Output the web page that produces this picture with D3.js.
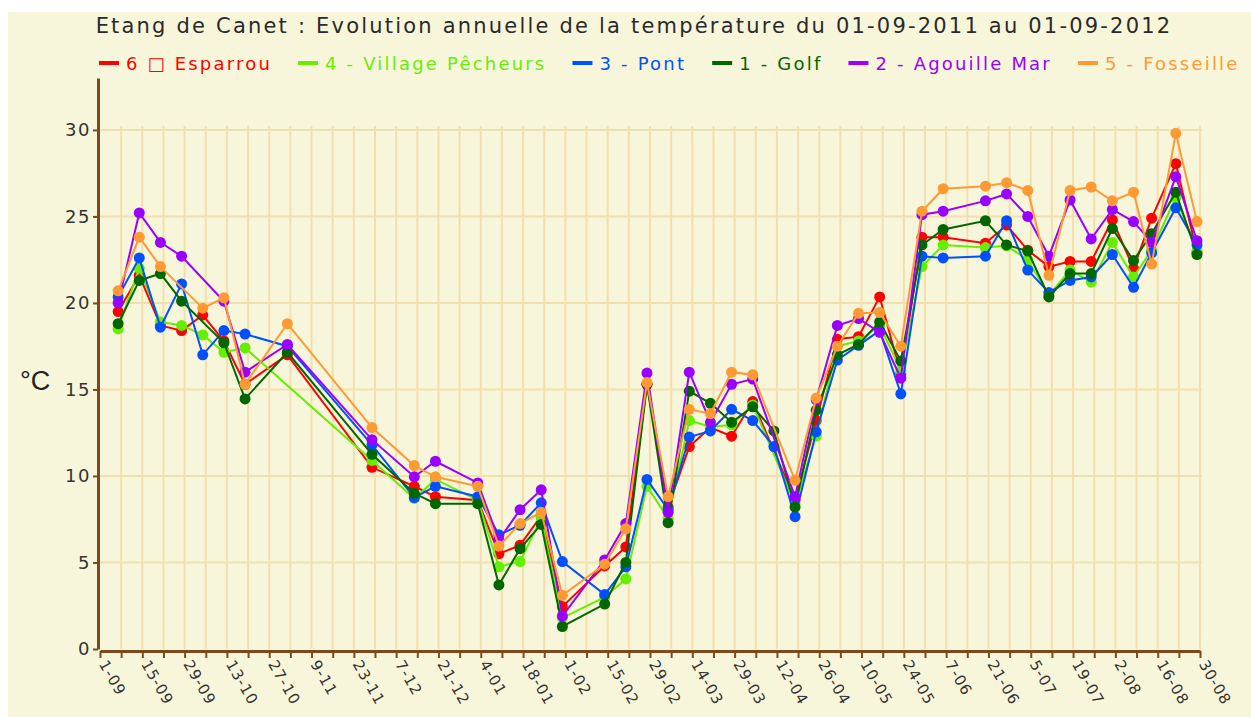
<!DOCTYPE html>
<html lang="fr">
<head>
<meta charset="UTF-8">
<title>Etang de Canet</title>
<script src="https://cdn.jsdelivr.net/npm/d3@7"></script>
<style>
    body { margin: 0; background: #fff; }
    svg text { font-family: "DejaVu Sans", Verdana, sans-serif; }
</style>
</head>
<body>
<svg width="1251" height="717"></svg>
<script>
    // dates des relevés
    var dates = ["2011-09-07", "2011-09-14", "2011-09-21", "2011-09-28", "2011-10-05", "2011-10-12", "2011-10-19",
        "2011-11-02", "2011-11-30", "2011-12-14", "2011-12-21", "2012-01-04", "2012-01-11", "2012-01-18",
        "2012-01-25", "2012-02-01", "2012-02-15", "2012-02-22", "2012-02-29", "2012-03-07", "2012-03-14",
        "2012-03-21", "2012-03-28", "2012-04-04", "2012-04-11", "2012-04-18", "2012-04-25", "2012-05-02",
        "2012-05-09", "2012-05-16", "2012-05-23", "2012-05-30", "2012-06-06", "2012-06-20", "2012-06-27",
        "2012-07-04", "2012-07-11", "2012-07-18", "2012-07-25", "2012-08-01", "2012-08-08", "2012-08-14",
        "2012-08-22", "2012-08-29"];

    var tickLabels = ["1-09", "15-09", "29-09", "13-10", "27-10", "9-11", "23-11", "7-12", "21-12", "4-01",
        "18-01", "1-02", "15-02", "29-02", "14-03", "29-03", "12-04", "26-04", "10-05", "24-05", "7-06",
        "21-06", "5-07", "19-07", "2-08", "16-08", "30-08"];

    var yTicks = [0, 5, 10, 15, 20, 25, 30];

    var seriesNames = ["6 \u25A1 Esparrou", "4 - Village P\u00eacheurs", "3 - Pont", "1 - Golf", "2 - Agouille Mar", "5 - Fosseille"];
    var seriesColors = ["#ff0000", "#66ee00", "#0050ff", "#006600", "#9900ff", "#ff9933"];

    var esparrou = [19.5, 21.6, 18.7, 18.4, 19.3, 17.8, 15.3, 17.0, 10.5, 9.4, 8.8, 8.6, 5.5, 6.0, 7.7, 2.45,
        4.8, 5.9, 15.3, 8.2, 11.7, 12.8, 12.3, 14.3, null, 8.6, 13.2, 17.9, 18.05, 20.35, 15.9, 23.8, 23.8,
        23.45, 24.5, 23.05, 22.1, 22.4, 22.4, 24.8, 22.0, 24.9, 28.05, 22.9];
    var village = [18.5, 22.0, 18.9, 18.7, 18.15, 17.15, 17.4, null, 10.9, 8.7, 9.8, 8.6, 4.75, 5.05, 7.55, 1.8,
        3.0, 4.05, 9.4, 7.55, 13.2, 12.85, 12.95, 14.1, null, 8.4, 12.3, 17.5, 17.8, 18.7, 16.1, 22.1, 23.35,
        23.2, 23.3, 22.5, 20.45, 21.9, 21.2, 23.5, 21.5, 23.05, 26.1, 23.0];
    var pont = [20.35, 22.6, 18.6, 21.1, 17.0, 18.4, 18.2, 17.5, 11.8, 8.75, 9.4, 8.8, 6.6, 7.15, 8.45, 5.05,
        3.15, 4.75, 9.8, 8.05, 12.25, 12.6, 13.85, 13.2, 11.7, 7.65, 12.55, 16.7, 17.55, 18.4, 14.75, 22.7, 22.6,
        22.7, 24.75, 21.9, 20.6, 21.3, 21.5, 22.8, 20.9, 22.9, 25.5, 23.35];
    var golf = [18.8, 21.3, 21.7, 20.1, null, 17.7, 14.45, 17.15, 11.25, 9.0, 8.4, 8.4, 3.7, 5.8, 7.2, 1.3,
        2.6, 5.0, 15.3, 7.3, 14.9, 14.2, 13.1, 14.0, 12.6, 8.2, 13.8, 17.0, 17.6, 18.9, 16.65, 23.35, 24.25,
        24.75, 23.35, 23.0, 20.35, 21.7, 21.7, 24.3, 22.45, 24.0, 26.4, 22.8];
    var agouille = [20.0, 25.2, 23.5, 22.7, null, 20.1, 16.0, 17.6, 12.1, 9.95, 10.85, 9.6, 6.3, 8.05, 9.2, 1.9,
        5.15, 7.25, 15.95, 7.9, 16.0, 13.1, 15.3, 15.6, null, 8.8, 14.4, 18.7, 19.1, 18.3, 15.65, 25.1, 25.3,
        25.9, 26.3, 25.0, 22.7, 25.95, 23.7, 25.4, 24.7, 23.5, 27.3, 23.6];
    var fosseille = [20.7, 23.8, 22.1, null, 19.7, 20.3, 15.3, 18.8, 12.8, 10.6, 9.95, 9.4, 5.95, 7.25, 7.9, 3.1,
        4.9, 6.95, 15.4, 8.8, 13.85, 13.6, 16.0, 15.85, null, 9.75, 14.5, 17.5, 19.4, 19.45, 17.5, 25.3, 26.6,
        26.75, 26.95, 26.5, 21.6, 26.5, 26.7, 25.9, 26.4, 22.25, 29.8, 24.7];

    var seriesValues = [esparrou, village, pont, golf, agouille, fosseille];

    var parseDate = d3.utcParse("%Y-%m-%d");
    var startDate = parseDate("2011-09-01"),
        endDate = parseDate("2012-08-30");

    var svg = d3.select("svg");

    // fond crème
    svg.append("rect")
        .attr("x", 8).attr("y", 12)
        .attr("width", 1243).attr("height", 705)
        .attr("fill", "#f8f6da");

    var plotLeft = 100, plotRight = 1200, plotTop = 78, plotBottom = 649;

    var x = d3.scaleUtc().domain([startDate, endDate]).range([plotLeft, plotRight]);
    var y = d3.scaleLinear().domain([0, 33]).range([plotBottom, plotTop]);

    var weekTicks = d3.utcDay.range(startDate, d3.utcDay.offset(endDate, 1), 7);

    // grille
    var grid = svg.append("g");
    grid.selectAll(".vgrid")
        .data(weekTicks.slice(1))
        .enter().append("line")
        .attr("x1", function (d) { return x(d); })
        .attr("x2", function (d) { return x(d); })
        .attr("y1", y(0)).attr("y2", y(30) - 4)
        .attr("stroke", "#f2dfae")
        .attr("stroke-width", 2);
    grid.selectAll(".hgrid")
        .data(yTicks.slice(1))
        .enter().append("line")
        .attr("x1", plotLeft).attr("x2", plotRight + 2)
        .attr("y1", function (d) { return y(d); })
        .attr("y2", function (d) { return y(d); })
        .attr("stroke", "#f2dfae")
        .attr("stroke-width", 2);

    // axes
    var xAxis = svg.append("g")
        .attr("transform", "translate(0," + (plotBottom + 2) + ")")
        .call(d3.axisBottom(x)
            .tickValues(weekTicks)
            .tickSize(7)
            .tickSizeOuter(0)
            .tickFormat(function (d, i) { return i % 2 === 0 ? tickLabels[i / 2] : ""; }));
    xAxis.select(".domain").attr("stroke", "#7a4a1c").attr("stroke-width", 3);
    xAxis.selectAll(".tick line").attr("stroke", "#7a4a1c").attr("stroke-width", 2);
    xAxis.selectAll(".tick text")
        .attr("x", 0).attr("y", 0).attr("dy", 0)
        .attr("text-anchor", "start")
        .attr("transform", "translate(-2,13) rotate(60)")
        .attr("fill", "#333")
        .style("font-size", "15px")
        .style("letter-spacing", "1px");

    var yAxis = svg.append("g")
        .attr("transform", "translate(" + (plotLeft - 2) + ",0)")
        .call(d3.axisLeft(y).tickValues(yTicks).tickSize(5).tickSizeOuter(0));
    yAxis.select(".domain").attr("stroke", "#7a4a1c").attr("stroke-width", 3);
    yAxis.selectAll(".tick line").attr("stroke", "#7a4a1c").attr("stroke-width", 2);
    yAxis.selectAll(".tick text")
        .attr("fill", "#333")
        .attr("x", -7)
        .style("font-size", "18px")
        .style("letter-spacing", "1.5px");

    svg.append("text")
        .attr("x", 20).attr("y", 390)
        .attr("fill", "#222")
        .style("font-family", "'Liberation Sans', Arial, sans-serif")
        .style("font-size", "27px")
        .text("\u00b0C");

    // séries
    var line = d3.line()
        .x(function (d) { return x(d.date); })
        .y(function (d) { return y(d.v); });

    seriesValues.forEach(function (vals, s) {
        var pts = vals.map(function (v, i) { return {date: parseDate(dates[i]), v: v}; })
            .filter(function (d) { return d.v != null; });
        var g = svg.append("g");
        g.append("path")
            .datum(pts)
            .attr("d", line)
            .attr("fill", "none")
            .attr("stroke", seriesColors[s])
            .attr("stroke-width", 2);
        g.selectAll("circle")
            .data(pts)
            .enter().append("circle")
            .attr("cx", function (d) { return x(d.date); })
            .attr("cy", function (d) { return y(d.v); })
            .attr("r", 5.5)
            .attr("fill", seriesColors[s]);
    });

    // titre
    svg.append("text")
        .attr("x", 634).attr("y", 33)
        .attr("text-anchor", "middle")
        .attr("fill", "#2a2a2a")
        .style("font-size", "21px")
        .style("letter-spacing", "2.2px")
        .text("Etang de Canet : Evolution annuelle de la temp\u00e9rature du 01-09-2011 au 01-09-2012");

    // légende
    var lx = 99;
    seriesNames.forEach(function (name, s) {
        svg.append("line")
            .attr("x1", lx).attr("x2", lx + 20)
            .attr("y1", 63).attr("y2", 63)
            .attr("stroke", seriesColors[s])
            .attr("stroke-width", 4);
        var t = svg.append("text")
            .attr("x", lx + 27).attr("y", 70)
            .attr("fill", seriesColors[s])
            .style("font-size", "18px")
            .style("letter-spacing", "2.2px")
            .text(name);
        lx += 27 + t.node().getComputedTextLength() + 26;
    });
</script>
</body>
</html>
